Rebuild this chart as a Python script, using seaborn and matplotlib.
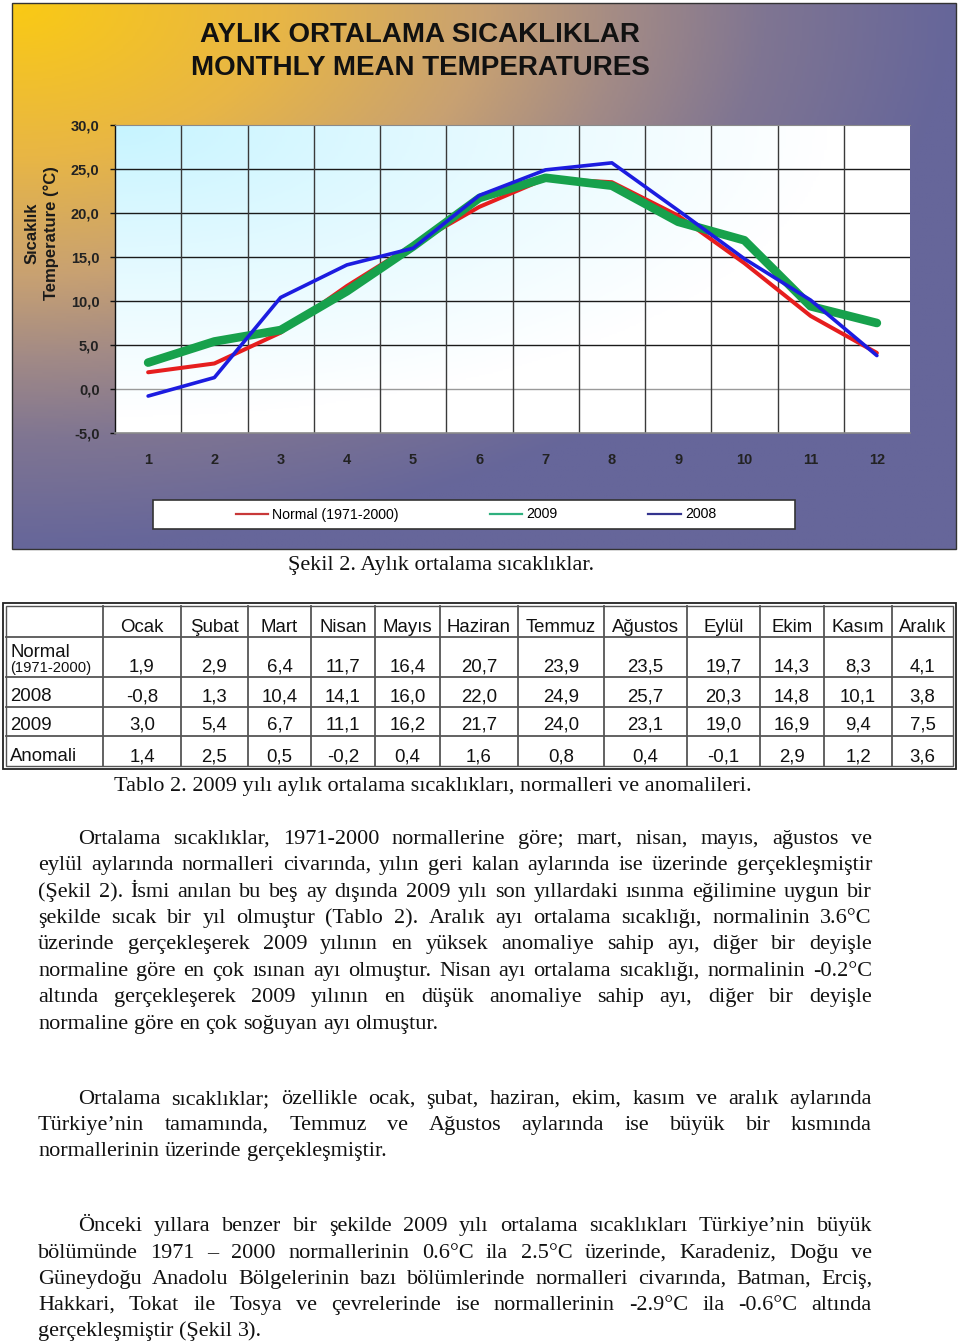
import numpy as np
import pandas as pd
import matplotlib
matplotlib.use("Agg")
import matplotlib.pyplot as plt
import seaborn as sns
from matplotlib.colors import LinearSegmentedColormap
from matplotlib.lines import Line2D
from matplotlib.patches import Rectangle

# ---------------- data ----------------
months = list(range(1, 13))
month_names = ["Ocak", "Şubat", "Mart", "Nisan", "Mayıs", "Haziran", "Temmuz",
               "Ağustos", "Eylül", "Ekim", "Kasım", "Aralık"]
normal = [1.9, 2.9, 6.4, 11.7, 16.4, 20.7, 23.9, 23.5, 19.7, 14.3, 8.3, 4.1]
y2008 = [-0.8, 1.3, 10.4, 14.1, 16.0, 22.0, 24.9, 25.7, 20.3, 14.8, 10.1, 3.8]
y2009 = [3.0, 5.4, 6.7, 11.1, 16.2, 21.7, 24.0, 23.1, 19.0, 16.9, 9.4, 7.5]
anomaly = [1.4, 2.5, 0.5, -0.2, 0.4, 1.6, 0.8, 0.4, -0.1, 2.9, 1.2, 3.6]
y_ticks = [-5, 0, 5, 10, 15, 20, 25, 30]
series_labels = ["Normal (1971-2000)", "2009", "2008"]
row_labels = ["2008", "2009", "Anomali"]

title1 = "AYLIK ORTALAMA SICAKLIKLAR"
title2 = "MONTHLY MEAN TEMPERATURES"
caption1 = "Şekil 2. Aylık ortalama sıcaklıklar."
caption2 = "Tablo 2. 2009 yılı aylık ortalama sıcaklıkları, normalleri ve anomalileri."

paragraphs = [
    ["Ortalama sıcaklıklar, 1971-2000 normallerine göre; mart, nisan, mayıs, ağustos ve",
     "eylül aylarında normalleri civarında, yılın geri kalan aylarında ise üzerinde gerçekleşmiştir",
     "(Şekil 2). İsmi anılan bu beş ay dışında 2009 yılı son yıllardaki ısınma eğilimine uygun bir",
     "şekilde sıcak bir yıl olmuştur (Tablo 2). Aralık ayı ortalama sıcaklığı, normalinin 3.6°C",
     "üzerinde gerçekleşerek 2009 yılının en yüksek anomaliye sahip ayı, diğer bir deyişle",
     "normaline göre en çok ısınan ayı olmuştur. Nisan ayı ortalama sıcaklığı, normalinin -0.2°C",
     "altında gerçekleşerek 2009 yılının en düşük anomaliye sahip ayı, diğer bir deyişle",
     "normaline göre en çok soğuyan ayı olmuştur."],
    ["Ortalama sıcaklıklar; özellikle ocak, şubat, haziran, ekim, kasım ve aralık aylarında",
     "Türkiye’nin tamamında, Temmuz ve Ağustos aylarında ise büyük bir kısmında",
     "normallerinin üzerinde gerçekleşmiştir."],
    ["Önceki yıllara benzer bir şekilde 2009 yılı ortalama sıcaklıkları Türkiye’nin büyük",
     "bölümünde 1971 – 2000 normallerinin 0.6°C ila 2.5°C üzerinde, Karadeniz, Doğu ve",
     "Güneydoğu Anadolu Bölgelerinin bazı bölümlerinde normalleri civarında, Batman, Erciş,",
     "Hakkari, Tokat ile Tosya ve çevrelerinde ise normallerinin -2.9°C ila -0.6°C altında",
     "gerçekleşmiştir (Şekil 3)."],
]
# baselines (pixels from top)
para_base = [[844, 870, 897, 923, 949, 976, 1002, 1029],
             [1104, 1130, 1156],
             [1231, 1258, 1284, 1310, 1336]]

SANS = "Liberation Sans"
SERIF = "Liberation Serif"

W, H = 960, 1344
fig = plt.figure(figsize=(W / 100, H / 100), dpi=100)
fig.patch.set_facecolor("white")


def fx(x):
    return x / W


def fy(y):
    return 1 - y / H


# ---------------- chart panel background ----------------
px0, py0, px1, py1 = 12, 3, 956, 549
bg = fig.add_axes([fx(px0), fy(py1), (px1 - px0) / W, (py1 - py0) / H])
u = np.linspace(0, 1, 400)[None, :]
v = np.linspace(0, 1, 300)[:, None]
t = np.clip(np.sqrt(u ** 2 + v ** 2), 0, 1)
panel_cmap = LinearSegmentedColormap.from_list(
    "panel", [(0.0, "#FACA14"), (0.28, "#E8B645"), (0.5, "#C8A172"),
              (0.65, "#A28A86"), (0.8, "#7F7592"), (1.0, "#66669A")])
bg.imshow(t, cmap=panel_cmap, vmin=0, vmax=1, extent=[0, 1, 0, 1],
          aspect="auto", origin="upper")
bg.set_axis_off()
fig.patches.append(Rectangle((fx(px0), fy(py1)), (px1 - px0) / W, (py1 - py0) / H,
                             transform=fig.transFigure, fill=False,
                             edgecolor="#333333", linewidth=1.0, zorder=5))

# ---------------- plot area ----------------
ax0, ay0, ax1, ay1 = 115, 125, 910, 433
ax = fig.add_axes([fx(ax0), fy(ay1), (ax1 - ax0) / W, (ay1 - ay0) / H])
ax.set_xlim(0.5, 12.5)
ax.set_ylim(-5, 30)
uu = np.linspace(0, 1, 300)[None, :]
vv = np.linspace(0, 1, 200)[:, None]
tt = np.clip(np.sqrt((uu / 0.9) ** 2 + (vv / 0.95) ** 2), 0, 1) ** 0.9
plot_cmap = LinearSegmentedColormap.from_list("plotbg", ["#C6F4FF", "#FFFFFF"])
ax.imshow(tt, cmap=plot_cmap, vmin=0, vmax=1, extent=[0.5, 12.5, -5, 30],
          aspect="auto", origin="upper", zorder=0)

for yv in y_ticks[1:-1]:
    ax.axhline(yv, color="#9A9A9A" if yv == 0 else "#1A1A1A", linewidth=1.0, zorder=1)
for xv in months[:-1]:
    ax.axvline(xv + 0.5, color="#3A3A3A", linewidth=1.0, zorder=1)

sns.lineplot(x=months, y=normal, ax=ax, color="#E61E1E", linewidth=2.9,
             zorder=3, solid_capstyle="round")
sns.lineplot(x=months, y=y2009, ax=ax, color="#17A14C", linewidth=6.2,
             zorder=4, solid_capstyle="round")
sns.lineplot(x=months, y=y2008, ax=ax, color="#1C1CE0", linewidth=2.6,
             zorder=5, solid_capstyle="round")

ax.set_xticks(months)
ax.set_xticklabels([str(m) for m in months], fontsize=10.5, family=SANS,
                   fontweight="bold", color="#222222")
ax.set_yticks(y_ticks)
ax.set_yticklabels([f"{v_:.1f}".replace(".", ",") for v_ in y_ticks],
                   fontsize=10.5, family=SANS, fontweight="bold", color="#222222")
ax.tick_params(axis="x", length=0, pad=14.5)
ax.tick_params(axis="y", length=3.6, width=1, color="#111111", pad=7.5)
ax.set_xlabel("")
ax.set_ylabel("")
ax.spines["right"].set_visible(False)
ax.spines["top"].set_color("#8A8A8A")
ax.spines["top"].set_linewidth(0.8)
ax.spines["left"].set_color("#111111")
ax.spines["left"].set_linewidth(1.0)
ax.spines["bottom"].set_color("#8A8A8A")
ax.spines["bottom"].set_linewidth(1.2)

# titles and axis label
fig.text(fx(420), fy(35), title1, ha="center", va="center", fontsize=20,
         fontweight="bold", family=SANS, color="#111111")
fig.text(fx(420), fy(68), title2, ha="center", va="center", fontsize=20,
         fontweight="bold", family=SANS, color="#111111")
fig.text(fx(32), fy(233), "Sıcaklık", rotation=90, ha="center", va="center",
         fontsize=12, fontweight="bold", family=SANS, color="#1A1A1A")
fig.text(fx(51), fy(233), "Temperature (°C)", rotation=90, ha="center", va="center",
         fontsize=12, fontweight="bold", family=SANS, color="#1A1A1A")

# legend
lx0, ly0, lx1, ly1 = 153, 500, 795, 529
fig.patches.append(Rectangle((fx(lx0), fy(ly1)), (lx1 - lx0) / W, (ly1 - ly0) / H,
                             transform=fig.transFigure, facecolor="white",
                             edgecolor="#333333", linewidth=1.2, zorder=6))
handles = [Line2D([0], [0], color="#C83838", linewidth=1.6),
           Line2D([0], [0], color="#2FB07E", linewidth=1.6),
           Line2D([0], [0], color="#34348E", linewidth=1.6)]
leg = fig.legend(handles, series_labels, loc="center",
                 bbox_to_anchor=(fx((lx0 + lx1) / 2 + 2), fy((ly0 + ly1) / 2)),
                 ncol=3, frameon=False, handlelength=2.3, handletextpad=0.3,
                 columnspacing=6.4, prop={"family": SANS, "size": 10.2})
leg.set_zorder(7)

# ---------------- overlay in pixel coordinates ----------------
ov = fig.add_axes([0, 0, 1, 1])
ov.set_xlim(0, W)
ov.set_ylim(H, 0)
ov.set_axis_off()

ov.text(441.5, 570, caption1, ha="center", va="baseline", fontsize=16, family=SERIF, color="#111111")

# ---------------- table ----------------
col_edges = [6, 103, 181, 248, 311, 375, 440, 518, 604, 687, 760, 824, 892, 953]
row_edges = [606, 637, 677, 707, 736, 766]
ov.add_patch(Rectangle((3, 603), 953, 166, fill=False, edgecolor="#222222", linewidth=1.3))
ov.add_patch(Rectangle((6, 606), 947, 160, fill=False, edgecolor="#555555", linewidth=1.0))
for yv in row_edges[1:-1]:
    ov.plot([6, 953], [yv, yv], color="#555555", linewidth=1.3)
for xv in col_edges[1:-1]:
    ov.plot([xv, xv], [606, 766], color="#555555", linewidth=1.3)

TS = 13.4
centers = [(col_edges[i] + col_edges[i + 1]) / 2 for i in range(1, len(col_edges) - 1)]
for cx, name in zip(centers, month_names):
    ov.text(cx, 632, name, ha="center", va="baseline", fontsize=TS, family=SANS, color="#111111")
ov.text(10, 657, "Normal", ha="left", va="baseline", fontsize=TS, family=SANS, color="#111111")
ov.text(10, 672, "(1971-2000)", ha="left", va="baseline", fontsize=10.6, family=SANS, color="#111111")
row_base = [671, 701, 730, 761]
row_vals = [normal, y2008, y2009, anomaly]
for rb, vals in zip(row_base, row_vals):
    for cx, val in zip(centers, vals):
        ov.text(cx, rb, f"{val:.1f}".replace(".", ","), ha="center", va="baseline",
                fontsize=TS, family=SANS, color="#111111")
for rb, lab in zip(row_base[1:], row_labels):
    ov.text(10, rb, lab, ha="left", va="baseline", fontsize=TS, family=SANS, color="#111111")

ov.text(114, 791, caption2, ha="left", va="baseline", fontsize=16, family=SERIF, color="#111111")

# ---------------- justified paragraphs ----------------
renderer = fig.canvas.get_renderer()
BS = 16


def text_width(s):
    tt_ = ov.text(0, 0, s, fontsize=BS, family=SERIF)
    w = tt_.get_window_extent(renderer).width
    tt_.remove()
    return w


space_w = text_width("a a") - text_width("aa")
left_m, right_m, indent = 38, 872, 78
for lines, ys in zip(paragraphs, para_base):
    for i, (line, yv) in enumerate(zip(lines, ys)):
        x_start = indent if i == 0 else left_m
        words = line.split(" ")
        widths = [text_width(w_) for w_ in words]
        last = i == len(lines) - 1
        if last or len(words) == 1:
            gap = space_w
        else:
            gap = (right_m - x_start - sum(widths)) / (len(words) - 1)
        x = x_start
        for w_, wd in zip(words, widths):
            ov.text(x, yv, w_, ha="left", va="baseline", fontsize=BS, family=SERIF, color="#111111")
            x += wd + gap

fig.savefig("out.png", dpi=100)
